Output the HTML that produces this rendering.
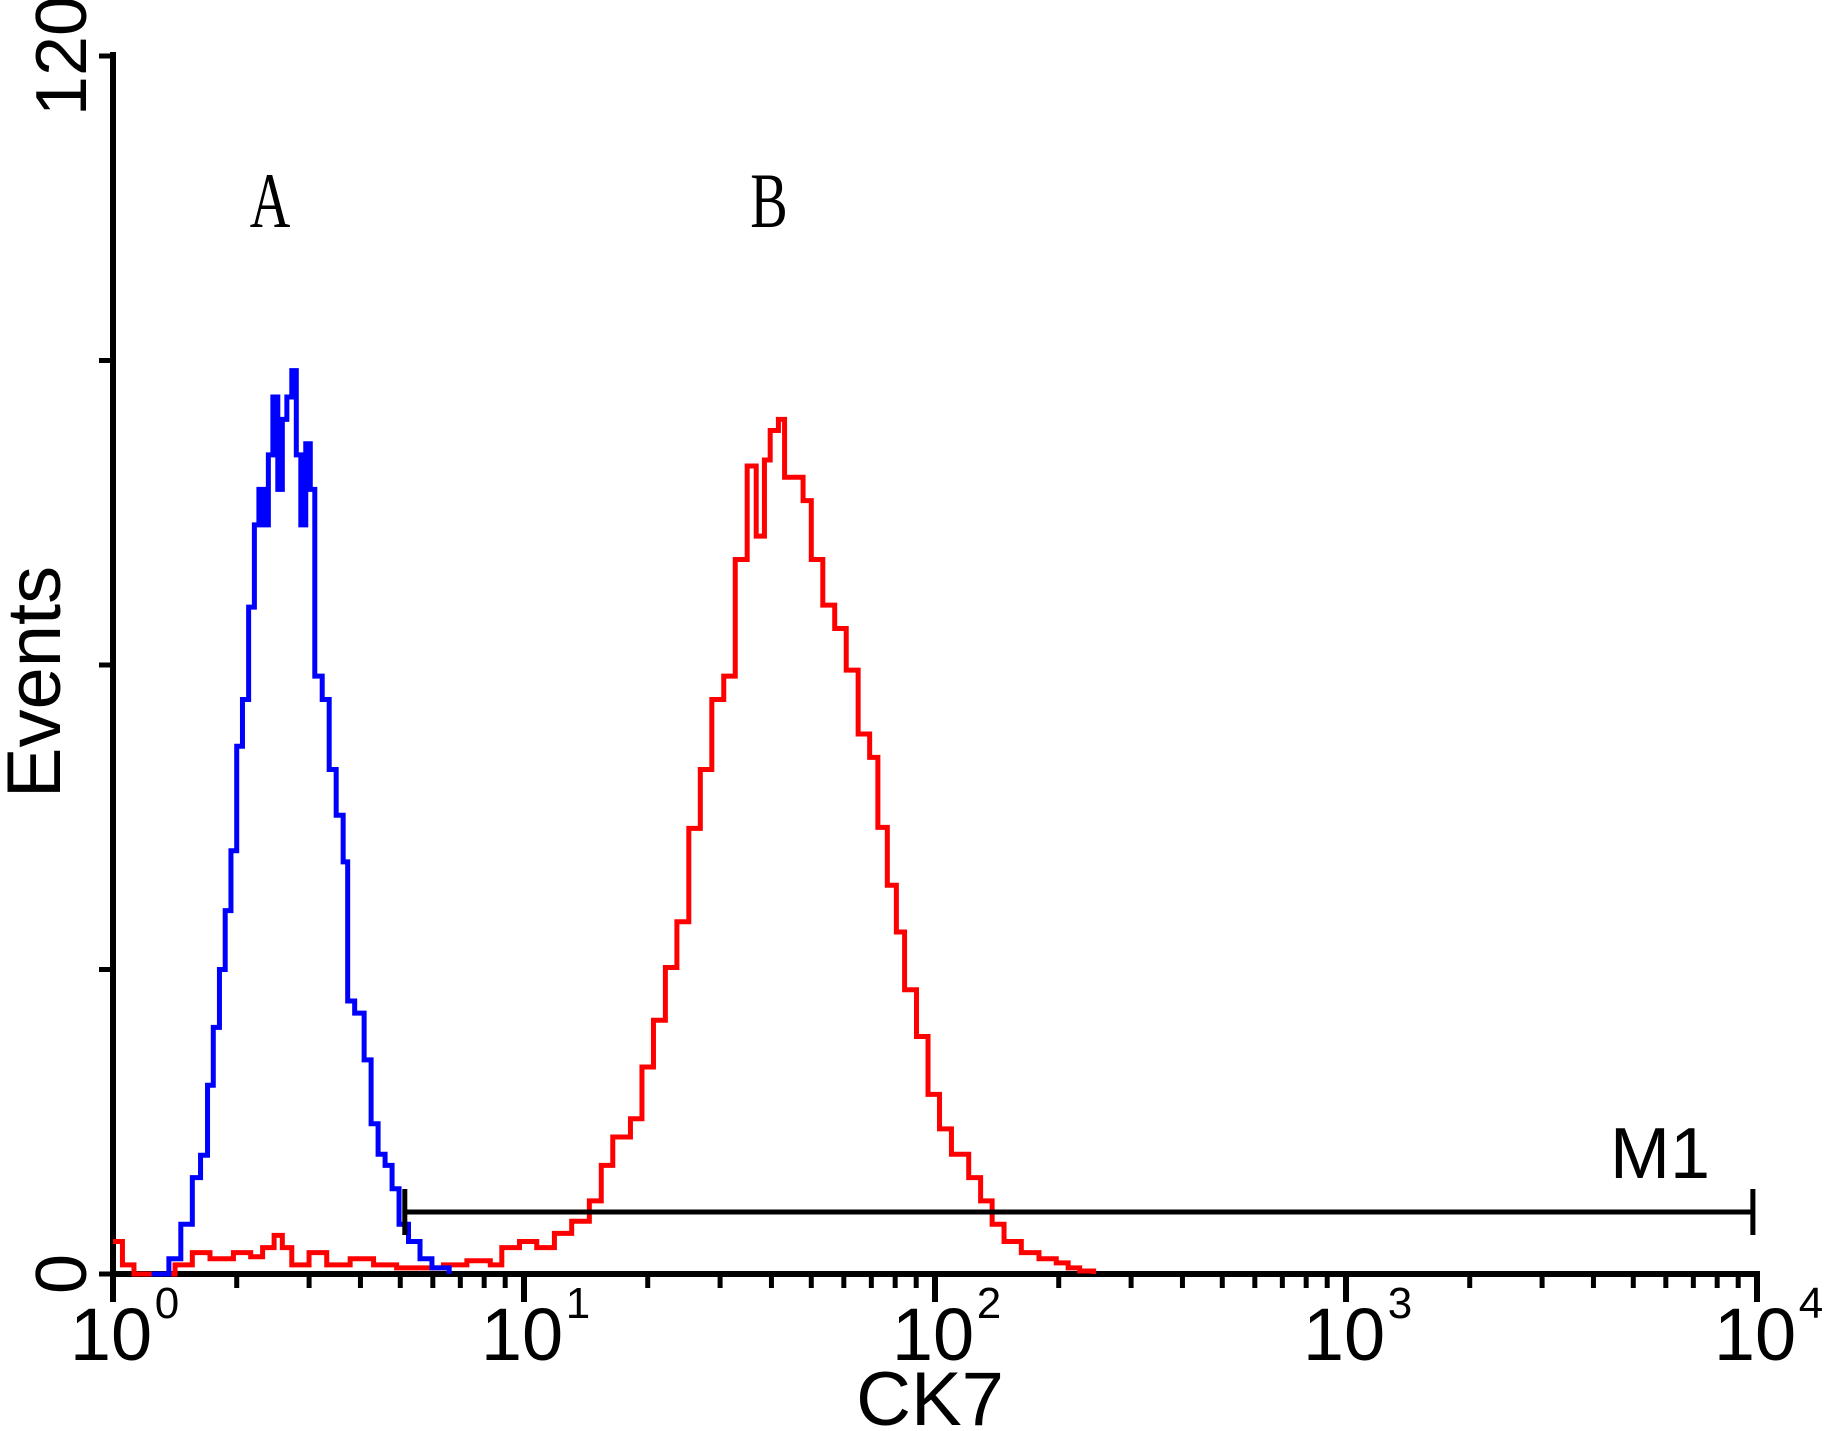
<!DOCTYPE html>
<html><head><meta charset="utf-8"><style>
html,body{margin:0;padding:0;background:#fff;}
svg{display:block;}
</style></head><body>
<svg id="chart" width="1827" height="1431" viewBox="0 0 1827 1431" xmlns="http://www.w3.org/2000/svg">
<g id="axes"></g>
<g id="series"></g>
<text x="270" y="227" font-family="Liberation Serif, serif" font-size="78" text-anchor="middle" transform="translate(270 0) scale(0.72 1) translate(-270 0)">A</text>
<text x="769" y="227" font-family="Liberation Serif, serif" font-size="78" text-anchor="middle" transform="translate(769 0) scale(0.72 1) translate(-769 0)">B</text>
<text x="0" y="0" font-family="Liberation Sans, sans-serif" font-size="76" text-anchor="middle" transform="translate(60 682) rotate(-90)">Events</text>
<text x="930" y="1425" font-family="Liberation Sans, sans-serif" font-size="76" text-anchor="middle">CK7</text>
<text x="1660" y="1178" font-family="Liberation Sans, sans-serif" font-size="72" text-anchor="middle">M1</text>
</svg>
<script>
// Data (log10 of CK7 intensity, event counts)
const blueLog = [0.094,0.136,0.165,0.193,0.213,0.230,0.244,0.259,0.273,0.287,0.301,0.315,0.330,0.344,0.355,0.366,0.378,0.389,0.401,0.412,0.423,0.435,0.446,0.457,0.469,0.480,0.491,0.509,0.526,0.543,0.560,0.571,0.588,0.611,0.628,0.645,0.662,0.679,0.696,0.719,0.747,0.776,0.818];
const blueCount = [0,1.5,4.9,9.5,11.7,18.6,24.3,30.0,35.8,41.7,52.0,56.6,65.7,73.8,77.3,73.8,80.7,86.4,77.3,84.2,86.4,89.0,80.7,73.8,81.8,77.3,58.9,56.6,49.7,45.2,40.6,26.9,25.7,21.1,14.8,11.8,10.7,8.4,4.9,3.2,1.5,0.6,0];
const redLog = [0,0.023,0.051,0.094,0.151,0.193,0.236,0.293,0.335,0.364,0.392,0.412,0.435,0.477,0.520,0.577,0.634,0.690,0.747,0.804,0.861,0.918,0.946,0.989,1.031,1.074,1.116,1.159,1.188,1.216,1.259,1.287,1.315,1.344,1.372,1.401,1.429,1.457,1.486,1.514,1.543,1.565,1.585,1.599,1.619,1.634,1.656,1.679,1.699,1.727,1.756,1.784,1.813,1.841,1.861,1.884,1.906,1.926,1.955,1.983,2.011,2.040,2.082,2.111,2.139,2.168,2.210,2.253,2.295,2.324,2.352,2.386];
const redCount = [3.2,0.9,0,0,0.9,2.1,1.5,2.1,1.7,2.6,3.8,2.6,0.9,2.1,0.9,1.5,0.9,0.6,0.6,0.9,1.3,0.9,2.6,3.2,2.6,4.0,5.2,7.2,10.7,13.5,15.3,20.4,25.0,30.2,34.7,43.9,49.7,56.6,58.9,70.4,79.6,72.7,80.2,83.1,84.2,78.5,78.5,76.2,70.4,65.9,63.6,59.5,53.2,50.9,44.0,38.3,33.7,28.0,23.4,17.7,14.3,11.8,9.5,7.2,4.9,3.2,2.1,1.5,1.1,0.6,0.3,0];
const yTicks = [0,30,60,90,120];
const yTickLabels = ["0","","","","120"];
const xDecades = [0,1,2,3,4];
const gateRange = [0.71, 3.99]; // log10 bounds of M1 gate

const X0=113, X1=1757, Y0=1274, Y1=56;
const x = l => X0 + l/4*(X1-X0);
const y = v => Y0 - v/120*(Y0-Y1);
const NS="http://www.w3.org/2000/svg";
function mk(tag, attrs, parent){const e=document.createElementNS(NS,tag);for(const k in attrs)e.setAttribute(k,attrs[k]);parent.appendChild(e);return e;}
const axes=document.getElementById('axes'), series=document.getElementById('series');

let e=mk('line',{x1:X0,y1:Y1-4,x2:X0,y2:Y0+8,stroke:'#000','stroke-width':6},axes);


e=mk('line',{x1:X0-3,y1:Y0,x2:X1+3,y2:Y0,stroke:'#000','stroke-width':6},axes);



yTicks.forEach((v,i)=>{
  const t=mk('line',{x1:X0-14,y1:y(v),x2:X0,y2:y(v),stroke:'#000','stroke-width':5},axes);
  
  
  if(yTickLabels[i]){
    const tx=mk('text',{x:0,y:0,'font-family':'Liberation Sans, sans-serif','font-size':72,'text-anchor':'middle',transform:`translate(86 ${y(v)}) rotate(-90)`},axes);
    tx.textContent=yTickLabels[i];
    
    
  }
});

xDecades.forEach(d=>{
  const t=mk('line',{x1:x(d),y1:Y0,x2:x(d),y2:Y0+28,stroke:'#000','stroke-width':6},axes);
  
  
  if(d<4){for(let m=2;m<=9;m++){
    const lx=x(d+Math.log10(m));
    const mt=mk('line',{x1:lx,y1:Y0,x2:lx,y2:Y0+14,stroke:'#000','stroke-width':5},axes);
    
    
  }}
  const tx=mk('text',{x:x(d)-2,y:1360,'font-family':'Liberation Sans, sans-serif','font-size':74,'text-anchor':'middle'},axes);
  tx.textContent='10';
  
  
  const sp=mk('text',{x:x(d)+54,y:1318,'font-family':'Liberation Sans, sans-serif','font-size':44,'text-anchor':'middle'},axes);
  sp.textContent=String(d);
  
  
});

function stepPath(ls,cs){
  let d='';
  for(let i=0;i<ls.length;i++){
    const px=x(ls[i]), py=y(cs[i]);
    if(i===0) d+=`M${px},${py}`; else d+=`H${px}V${py}`;
  }
  return d;
}
const red=mk('path',{d:stepPath(redLog,redCount),fill:'none',stroke:'#ff0000','stroke-width':5},series);


const blue=mk('path',{d:stepPath(blueLog,blueCount),fill:'none',stroke:'#0000ff','stroke-width':5},series);



const gy=1212;
const g=mk('path',{d:`M${x(gateRange[0])},${gy-23}V${gy+23}M${x(gateRange[0])},${gy}H${x(gateRange[1])}M${x(gateRange[1])},${gy-23}V${gy+23}`,fill:'none',stroke:'#000','stroke-width':5},series);


</script>
</body></html>
